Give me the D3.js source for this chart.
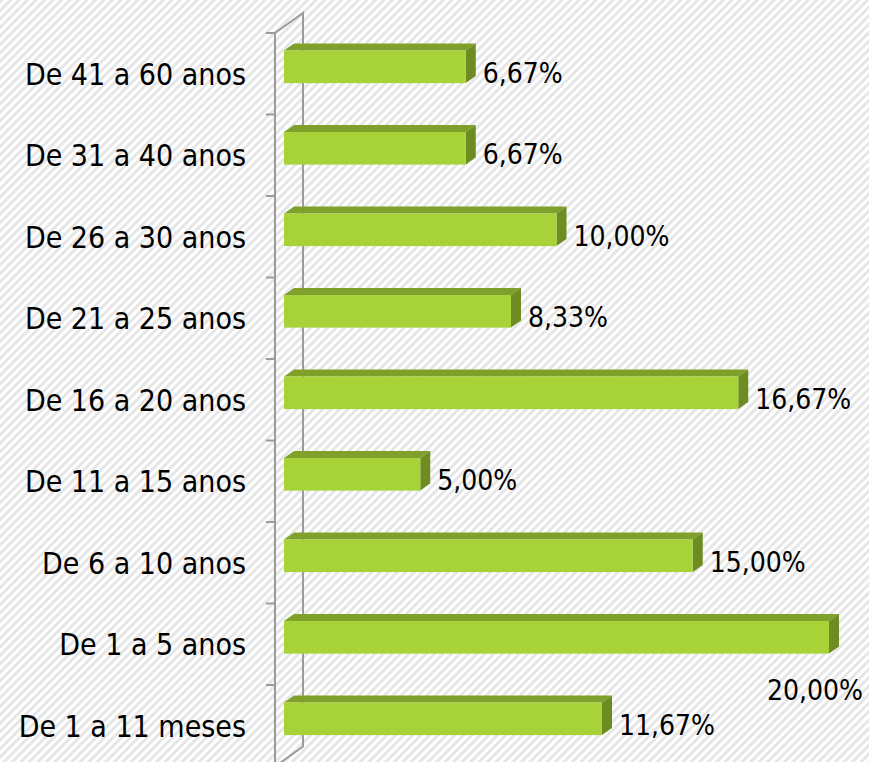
<!DOCTYPE html>
<html>
<head>
<meta charset="utf-8">
<script src="https://cdn.jsdelivr.net/npm/d3@7"></script>
<style>
  html, body { margin: 0; padding: 0; background: #fff; }
  svg { display: block; }
  text { font-family: "DejaVu Sans Condensed", "DejaVu Sans", sans-serif; fill: #000; }
</style>
</head>
<body>
<div id="chart"></div>
<script>
// categories top to bottom, as shown
const categories = [
	"De 41 a 60 anos",
	"De 31 a 40 anos",
	"De 26 a 30 anos",
	"De 21 a 25 anos",
	"De 16 a 20 anos",
	"De 11 a 15 anos",
	"De 6 a 10 anos",
	"De 1 a 5 anos",
	"De 1 a 11 meses"
];
const values = [6.67, 6.67, 10.00, 8.33, 16.67, 5.00, 15.00, 20.00, 11.67];
const valueLabels = ["6,67%", "6,67%", "10,00%", "8,33%", "16,67%", "5,00%", "15,00%", "20,00%", "11,67%"];

const width = 869,
	height = 762,
	wallDepth = {x: 28, y: -20},
	barDepth = {x: 10, y: -7};

const svg = d3.select('#chart')
	.append('svg')
	.attr('width', width)
	.attr('height', height);

// hatched background
const defs = svg.append('defs');
const pat = defs.append('pattern')
	.attr('id', 'hatch')
	.attr('patternUnits', 'userSpaceOnUse')
	.attr('width', 6)
	.attr('height', 6)
	.attr('patternTransform', 'rotate(45)');
pat.append('rect').attr('width', 6).attr('height', 6).attr('fill', '#ffffff');
pat.append('rect').attr('width', 3).attr('height', 6).attr('fill', '#e6e6e6');

svg.append('rect')
	.attr('width', width)
	.attr('height', height)
	.attr('fill', 'url(#hatch)');

const y = d3.scaleBand()
	.domain(categories)
	.range([33, 766.5]);

const x = d3.scaleLinear()
	.domain([0, 20])
	.range([284, 829]);

const axisX = 275;
const step = y.step();

// wall / axis lines
const wall = svg.append('g')
	.attr('stroke', '#9b9b9b')
	.attr('stroke-width', 2)
	.attr('fill', 'none');

const yTop = y.range()[0], yBot = y.range()[1];
wall.append('path')
	.attr('d', `M${axisX},${yBot} L${axisX},${yTop} L${axisX + wallDepth.x},${yTop + wallDepth.y} L${axisX + wallDepth.x},${yBot + wallDepth.y} L${axisX},${yBot}`);

// ticks at category boundaries
const tickPos = categories.map(c => y(c)).concat([yBot]);
wall.selectAll('line.tick')
	.data(tickPos)
	.join('line')
	.attr('class', 'tick')
	.attr('x1', axisX - 9)
	.attr('x2', axisX)
	.attr('y1', d => d)
	.attr('y2', d => d);

// category labels
svg.append('g')
	.selectAll('text')
	.data(categories)
	.join('text')
	.attr('x', 246)
	.attr('y', d => y(d) + step / 2)
	.attr('dy', '0.36em')
	.attr('text-anchor', 'end')
	.style('font-size', '30px')
	.text(d => d);

// bars
const data = categories.map((c, i) => ({cat: c, value: values[i], label: valueLabels[i]}));
const faceTop = d => y(d.cat) + step * 0.215;
const faceH = step * 0.4;

const bar = svg.append('g')
	.selectAll('g.bar')
	.data(data)
	.join('g')
	.attr('class', 'bar');

// top face
bar.append('path')
	.attr('fill', '#7fa12b')
	.attr('d', d => {
		const x0 = x(0), x1 = x(d.value), t = faceTop(d);
		return `M${x0},${t} L${x0 + barDepth.x},${t + barDepth.y} L${x1 + barDepth.x},${t + barDepth.y} L${x1},${t} Z`;
	});

// side face
bar.append('path')
	.attr('fill', '#6d8c22')
	.attr('d', d => {
		const x1 = x(d.value), t = faceTop(d);
		return `M${x1},${t} L${x1 + barDepth.x},${t + barDepth.y} L${x1 + barDepth.x},${t + faceH + barDepth.y} L${x1},${t + faceH} Z`;
	});

// front face
bar.append('rect')
	.attr('fill', '#a7d339')
	.attr('x', x(0))
	.attr('y', d => faceTop(d))
	.attr('width', d => x(d.value) - x(0))
	.attr('height', faceH);

// value labels
bar.append('text')
	.style('font-size', '28px')
	.text(d => d.label)
	.each(function (d) {
		const el = d3.select(this);
		const lx = x(d.value) + barDepth.x + 7;
		const w = this.getComputedTextLength();
		if (lx + w > width) {
			// doesn't fit: drop below the bar
			el.attr('x', width - 6)
				.attr('y', faceTop(d) + faceH + 36)
				.attr('dy', '0.36em')
				.attr('text-anchor', 'end');
		} else {
			el.attr('x', lx)
				.attr('y', faceTop(d) + faceH / 2 + 6)
				.attr('dy', '0.36em');
		}
	});
</script>
</body>
</html>
